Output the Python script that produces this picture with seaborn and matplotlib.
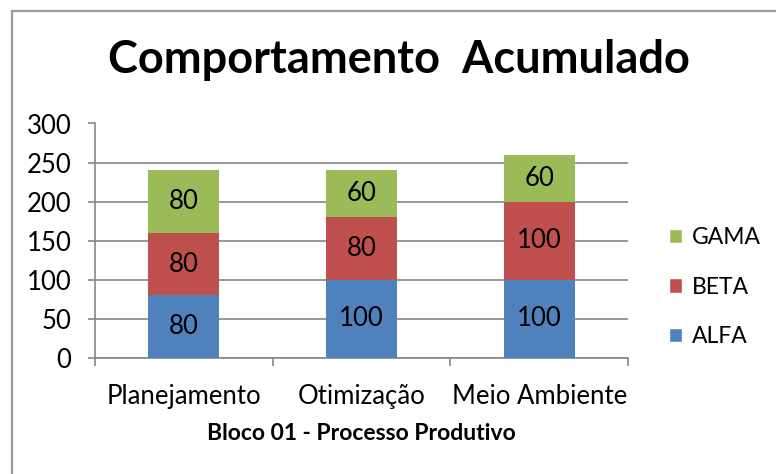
import numpy as np
import pandas as pd
import matplotlib
matplotlib.use("Agg")
import matplotlib.pyplot as plt
from matplotlib.lines import Line2D
from matplotlib.patches import Patch
import seaborn as sns

categories = ["Planejamento", "Otimização", "Meio Ambiente"]
alfa = [80, 100, 100]
beta = [80, 80, 100]
gama = [80, 60, 60]
series_names = ["ALFA", "BETA", "GAMA"]
colors = {"ALFA": "#4F81BD", "BETA": "#C0504D", "GAMA": "#9BBB59"}
title = "Comportamento  Acumulado"
xlabel = "Bloco 01 - Processo Produtivo"
yticks = [0, 50, 100, 150, 200, 250, 300]

sns.set_theme(style="white")
plt.rcParams["font.family"] = ["Lato", "DejaVu Sans"]
plt.rcParams["text.color"] = "black"
plt.rcParams["axes.labelcolor"] = "black"

df = pd.DataFrame({"cat": categories, "ALFA": alfa, "BETA": beta, "GAMA": gama})
df["cum_ALFA"] = df["ALFA"]
df["cum_BETA"] = df["ALFA"] + df["BETA"]
df["cum_GAMA"] = df["ALFA"] + df["BETA"] + df["GAMA"]

fig = plt.figure(figsize=(7.76, 4.74), dpi=100)
ax = fig.add_axes([95 / 776, 1 - 357.7 / 474, (628 - 95) / 776, (357.7 - 123.5) / 474])

for name in ["GAMA", "BETA", "ALFA"]:
    sns.barplot(data=df, x="cat", y="cum_" + name, color=colors[name],
                width=0.4, saturation=1, ax=ax, zorder=3, linewidth=0)

# segment labels
for name in series_names:
    for i, (v, top) in enumerate(zip(df[name], df["cum_" + name])):
        ax.text(i, top - v / 2, str(v), ha="center", va="center",
                fontsize=18.5, color="black", zorder=4)

ax.set_xlim(-0.5, 2.5)
ax.set_ylim(0, 300)
ax.set_yticks(yticks)
ax.set_yticklabels([str(t) for t in yticks], fontsize=18.5)
ax.set_xticks(range(len(categories)))
ax.set_xticklabels(categories, fontsize=18.5)
ax.set_xticks([-0.5, 0.5, 1.5, 2.5], minor=True)
ax.tick_params(axis="x", which="major", length=0, pad=19, labelcolor="black")
ax.tick_params(axis="x", which="minor", length=6, width=1.2, color="#868686", bottom=True)
ax.tick_params(axis="y", which="major", length=5, width=1.2, color="#868686", left=True,
               pad=12, labelcolor="black")
ax.set_ylabel("")
ax.set_xlabel(xlabel, fontsize=16.5, fontweight="bold", labelpad=10, color="black")

ax.yaxis.grid(True, color="#868686", linewidth=1.2, zorder=0)
ax.set_axisbelow(True)
for s in ["top", "right"]:
    ax.spines[s].set_visible(False)
for s in ["left", "bottom"]:
    ax.spines[s].set_color("#868686")
    ax.spines[s].set_linewidth(1.2)

fig.text(399 / 776, 1 - 60 / 474, title, ha="center", va="center",
         fontsize=32.5, fontweight="bold", color="black")

handles = [Patch(facecolor=colors[n], label=n) for n in ["GAMA", "BETA", "ALFA"]]
fig.legend(handles=handles, loc="center left", bbox_to_anchor=(648 / 776, 1 - 287 / 474),
           frameon=False, fontsize=16.5, handlelength=0.6, handleheight=0.6,
           handletextpad=0.4, labelspacing=1.25)

# outer chart border (top and left edges visible)
fig.add_artist(Line2D([12 / 776, 1.0], [1 - 11 / 474, 1 - 11 / 474],
                      transform=fig.transFigure, color="#9a9a9a", linewidth=1.6))
fig.add_artist(Line2D([12 / 776, 12 / 776], [1 - 11 / 474, 0.0],
                      transform=fig.transFigure, color="#9a9a9a", linewidth=1.6))

fig.savefig("out.png", dpi=100, facecolor="white")
